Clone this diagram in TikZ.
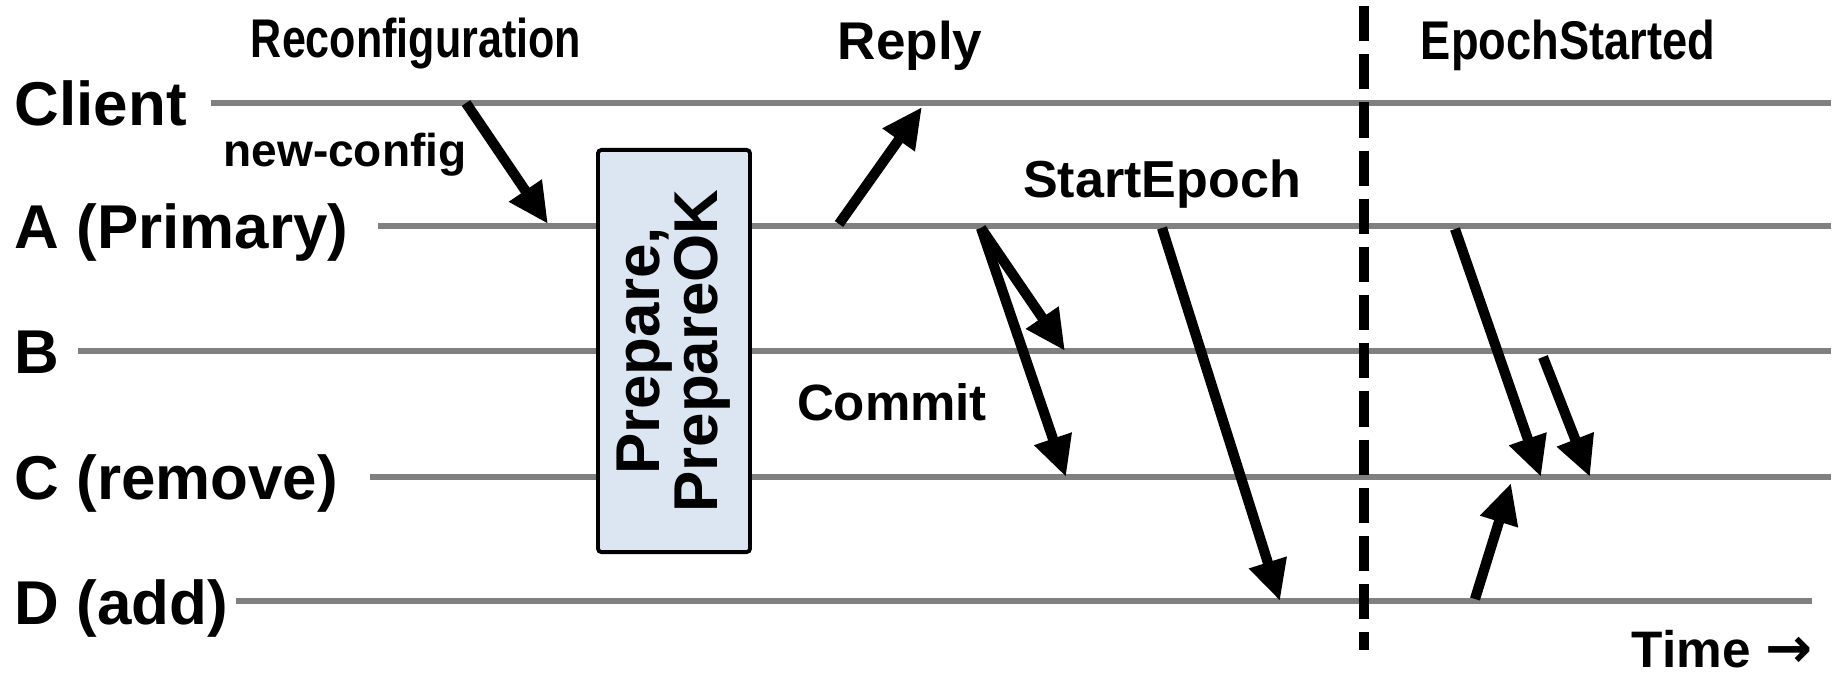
\documentclass[tikz,border=0pt]{standalone}
\usepackage{fontspec}
\setmainfont{Liberation Sans}
\newfontfamily\arrowfont{DejaVu Sans}
\usepackage{tikz}
\usetikzlibrary{arrows.meta,positioning}
\definecolor{lanegray}{HTML}{808080}
\definecolor{boxblue}{HTML}{DCE6F2}

\begin{document}
\begin{tikzpicture}[
    x=0.01cm, y=-0.01cm,
    every node/.style={inner sep=0pt, font=\bfseries},
    lane/.style={line width=1.6pt, lanegray},
    msg/.style={-{Triangle[length=11.5pt, width=10.5pt]}, line width=2.9pt, black},
    sep/.style={line width=2.8pt, dash pattern=on 10pt off 3.7pt},
    host/.style={anchor=base west, font=\bfseries\fontsize{17.6pt}{20pt}\selectfont},
    tag/.style={anchor=base, font=\bfseries\fontsize{14.8pt}{17pt}\selectfont}
]
    \useasboundingbox (0,0) rectangle (1835,682);

    % processes
    \node[host] (client) at (14,126) {Client};
    \node[host] (prim) at (14,249) {A (Primary)};
    \node[host] (nodeb) at (14,374) {B};
    \node[host] (nodec) at (14,500) {C (remove)};
    \node[host] (noded) at (14,624) {D (add)};

    \coordinate (clientL) at (211,103);  \coordinate (clientR) at (1831,103);
    \coordinate (primL) at (378,226);    \coordinate (primR) at (1831,226);
    \coordinate (nodebL) at (78,351);    \coordinate (nodebR) at (1831,351);
    \coordinate (nodecL) at (370,477);   \coordinate (nodecR) at (1831,477);
    \coordinate (nodedL) at (236,601);   \coordinate (nodedR) at (1812,601);

    \draw[lane] (clientL) -- (clientR);
    \draw[lane] (primL) -- (primR);
    \draw[lane] (nodebL) -- (nodebR);
    \draw[lane] (nodecL) -- (nodecR);
    \draw[lane] (nodedL) -- (nodedR);

    % prepare phase
    \node[draw, line width=1.1pt, rounded corners=1pt, fill=boxblue, rotate=90,
          minimum width=4.02cm, minimum height=1.52cm, align=center,
          font=\bfseries\fontsize{17.6pt}{16.5pt}\selectfont] (prep) at (674,351) {Prepare,\\PrepareOK};

    % epoch boundary
    \coordinate (sepT) at (1364,6);
    \coordinate (sepB) at (1364,650);
    \draw[sep] (sepT) -- (sepB);

    % messages
    \coordinate (rq0) at (466,103);   \coordinate (rq1) at (548,224);
    \coordinate (rp0) at (839,224);   \coordinate (rp1) at (922,107);
    \coordinate (cm0) at (981,228);   \coordinate (cmB) at (1065,351);
    \coordinate (cmC) at (1066,477);
    \coordinate (se0) at (1162,228);  \coordinate (seD) at (1280,601);
    \coordinate (es0) at (1455,229);  \coordinate (esC) at (1541,477);
    \coordinate (eb0) at (1543,357);  \coordinate (ebC) at (1590,477);
    \coordinate (ed0) at (1475,599);  \coordinate (edC) at (1511,483);

    \draw[msg] (rq0) -- (rq1);
    \draw[msg] (rp0) -- (rp1);
    \draw[msg] (cm0) -- (cmB);
    \draw[msg] (cm0) -- (cmC);
    \draw[msg] (se0) -- (seD);
    \draw[msg] (es0) -- (esC);
    \draw[msg] (eb0) -- (ebC);
    \draw[msg] (ed0) -- (edC);

    % labels
    \node[tag, font=\bfseries\fontsize{15.5pt}{17pt}\selectfont] (reconf) at (416,58) {\scalebox{0.79}[1]{Reconfiguration}};
    \node[tag, font=\bfseries\fontsize{15.1pt}{17pt}\selectfont] (reply) at (910,60) {Reply};
    \node[tag, font=\bfseries\fontsize{15.5pt}{17pt}\selectfont] (epst) at (1568,60) {\scalebox{0.83}[1]{EpochStarted}};
    \node[tag, font=\bfseries\fontsize{13.1pt}{15pt}\selectfont] (newcfg) at (345,167) {new-config};
    \node[tag] (stepoch) at (1162,198) {StartEpoch};
    \node[tag, font=\bfseries\fontsize{14.5pt}{17pt}\selectfont] (commit) at (892,421) {Commit};
    \node[anchor=base east, font=\bfseries\fontsize{14.6pt}{16pt}\selectfont] (time) at (1813,668) {Time {\arrowfont\bfseries\fontsize{16pt}{16pt}\selectfont →}};
\end{tikzpicture}
\end{document}
